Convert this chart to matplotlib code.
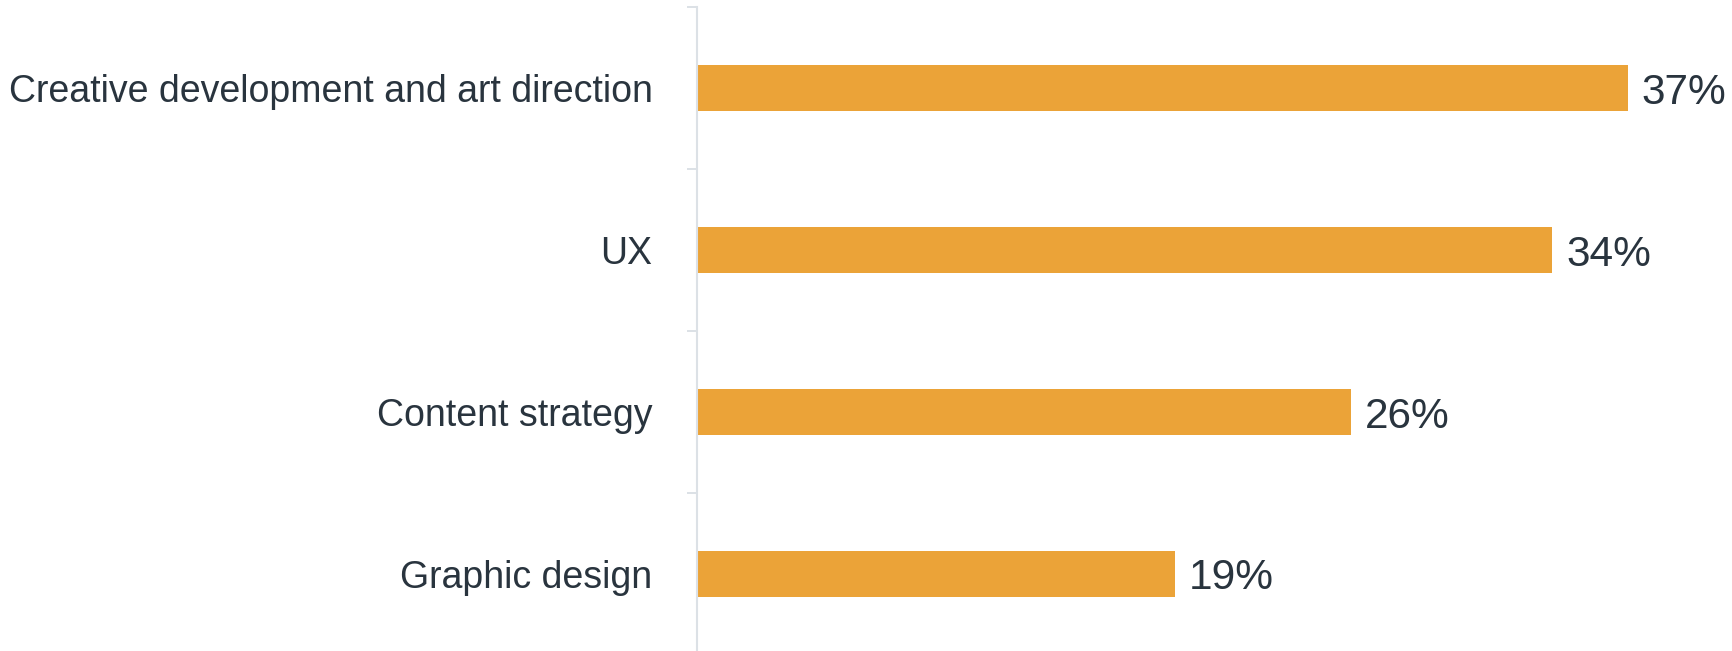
import matplotlib.pyplot as plt

# share of respondents per skill area
categories = ['Creative development and art direction', 'UX', 'Content strategy', 'Graphic design']
values = [37, 34, 26, 19]

bar_color = '#EBA338'
text_color = '#29343E'
axis_color = '#DCE1E6'

plt.rcParams['font.family'] = ['Liberation Sans', 'DejaVu Sans']

fig = plt.figure(figsize=(17.32, 6.51), dpi=100)
ax = fig.add_axes([0.4024, -0.006, 0.5976, 0.995])

pos = list(range(len(categories)))
bars = ax.barh(pos, values, height=0.28, color=bar_color)

for b, v in zip(bars, values):
    ax.text(b.get_width() + 0.55, b.get_y() + b.get_height() / 2, f'{v}%',
            va='center_baseline', ha='left', fontsize=30.5, color=text_color)

ax.set_ylim(len(categories) - 0.5, -0.5)
ax.set_xlim(0, 41.15)

ax.set_yticks(pos)
ax.set_yticklabels(categories, fontsize=27, color=text_color)
ax.tick_params(axis='y', which='major', length=0, pad=32)
ax.set_yticks([p - 0.5 for p in pos], minor=True)
ax.tick_params(axis='y', which='minor', length=7.5, width=1.4, color=axis_color)
ax.set_xticks([])

for s in ['top', 'right', 'bottom']:
    ax.spines[s].set_visible(False)
ax.spines['left'].set_color(axis_color)
ax.spines['left'].set_linewidth(1.5)

fig.savefig('out.png', dpi=100)
